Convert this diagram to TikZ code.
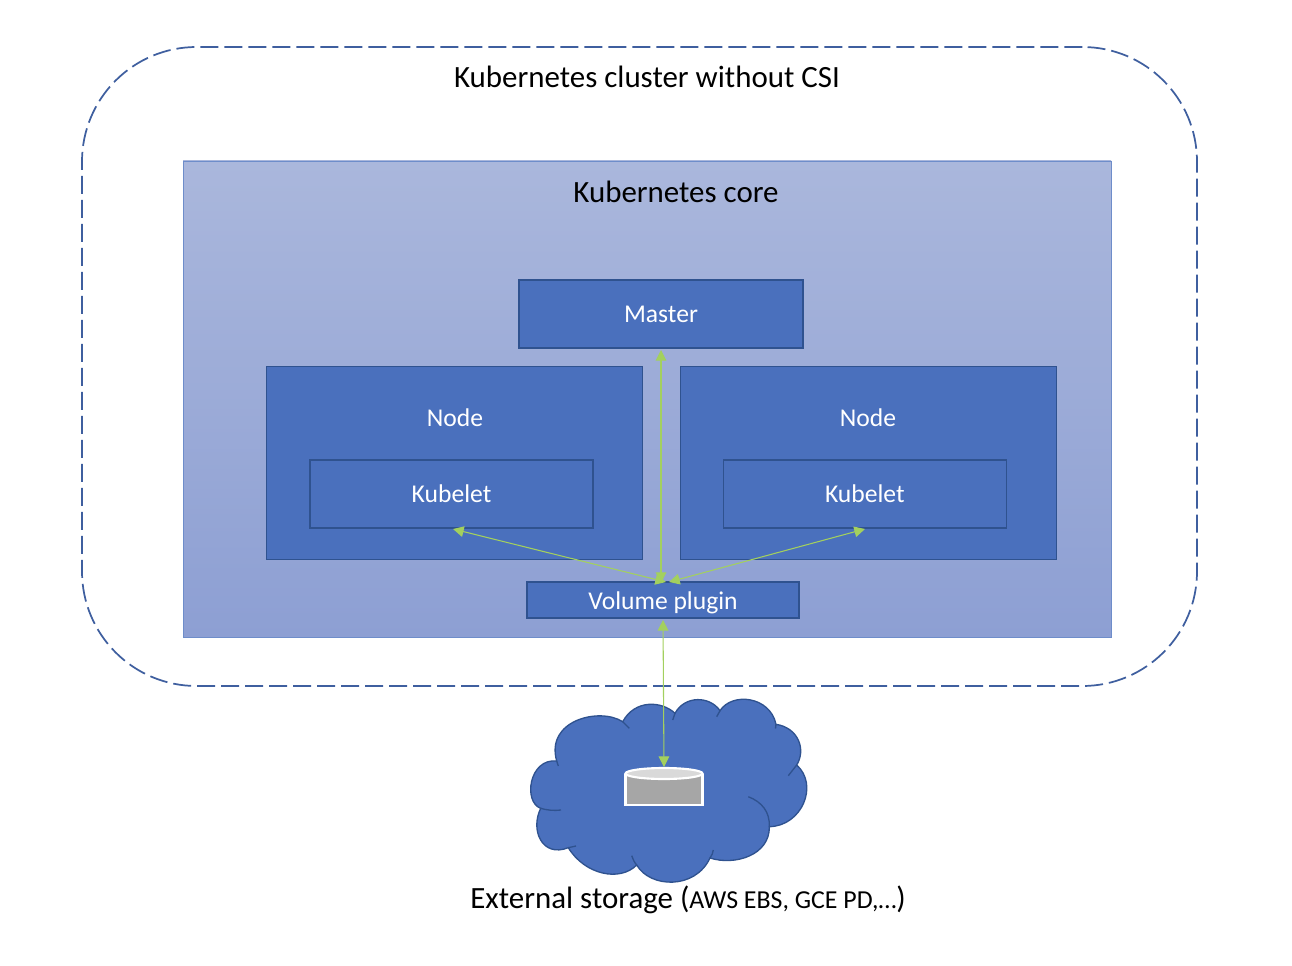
\documentclass[tikz,border=0pt]{standalone}
\usepackage{fontspec}
\setmainfont{Carlito}
\usetikzlibrary{arrows.meta}
\definecolor{bluefill}{HTML}{4A70BD}
\definecolor{blueline}{HTML}{2F528F}
\definecolor{dashline}{HTML}{3F5F9F}
\definecolor{coretop}{HTML}{AAB7DC}
\definecolor{corebot}{HTML}{8D9FD3}
\definecolor{arrowgreen}{HTML}{A3D05E}
\tikzset{
  x=0.75pt,y=-0.75pt,
  box/.style={draw=blueline,line width=1pt,fill=bluefill,inner sep=0pt,text=white,text depth=0pt,font=\fontsize{19.2}{21}\selectfont},
  boxlabel/.style={text=white,inner sep=0pt,font=\fontsize{19.2}{21}\selectfont},
  title/.style={text=black,inner sep=0pt,font=\fontsize{23.2}{26}\selectfont},
  link/.style={draw=arrowgreen,line width=0.8pt,{Triangle[length=8pt,width=8pt]}-{Triangle[length=8pt,width=8pt]}},
}
\begin{document}
\begin{tikzpicture}
\useasboundingbox (0,0) rectangle (1292,966);
% outer dashed region
\node[draw=dashline,line width=1.3pt,rounded corners=86pt,dash pattern=on 13.5pt off 4.5pt,
  minimum width=836.25pt,minimum height=479.25pt,inner sep=0pt] (cluster) at (639.5,366.5) {};
\node[title] (clustertitle) at (647,76.5) {Kubernetes cluster without CSI};
% core
\node[draw=bluefill!80,line width=0.6pt,top color=coretop,bottom color=corebot,
  minimum width=696pt,minimum height=357pt,inner sep=0pt] (core) at (647,399) {};
\node[title] (coretitle) at (676,191.5) {Kubernetes core};
% boxes
\node[box,minimum width=213pt,minimum height=51pt] (master) at (661,314) {Master};
\node[box,minimum width=282pt,minimum height=144.75pt] (nodeL) at (454.8,463) {};
\node[box,minimum width=282pt,minimum height=144.75pt] (nodeR) at (868.8,463) {};
\node[boxlabel] (nodeLt) at (455,418) {Node};
\node[boxlabel] (nodeRt) at (868,418) {Node};
\node[box,minimum width=212.25pt,minimum height=51pt] (kubeL) at (451.5,494) {Kubelet};
\node[box,minimum width=212.25pt,minimum height=51pt] (kubeR) at (864.8,494) {Kubelet};
\node[box,minimum width=204pt,minimum height=27pt] (vol) at (663,600) {\raisebox{-1.2pt}{Volume plugin}};
% cloud
\draw[fill=bluefill,draw=blueline,line width=1pt,line join=miter]
  (556.7,761)
  .. controls (529,758) and (523,802) .. (540.7,808.3)
  .. controls (530,830) and (542,858) .. (568.3,847.7)
  .. controls (585,875) and (620,882) .. (636.7,865)
  .. controls (650,888) and (695,890) .. (710,858)
  .. controls (735,866) and (770,855) .. (769.3,826.7)
  .. controls (802,826) and (819,785) .. (796.7,765)
  .. controls (806,750) and (799,728) .. (776,724.3)
  .. controls (770,696) and (732,692) .. (720,710.7)
  .. controls (710,696) and (685,695) .. (675,713.3)
  .. controls (662,701) and (635,699) .. (622.7,721.7)
  .. controls (600,707) and (545,720) .. (556.7,761) -- cycle;
\draw[draw=blueline,line width=1pt]
  (556.7,761) -- (558.3,766)
  (540.7,808.3) .. controls (546,810) and (554,811) .. (561,810)
  (568.3,847.7) -- (576,846)
  (636.7,865) .. controls (634,862) and (633,859) .. (631.7,855.7)
  (710,858) .. controls (712,855) and (713,853) .. (713.3,850)
  (769.3,826.7) .. controls (770,812) and (762,802) .. (748.3,796.7)
  (796.7,765) -- (788.3,775.7)
  (776,724.3) -- (775.5,728.5)
  (720,710.7) -- (716.7,716.7)
  (675,713.3) -- (672.7,720)
  (622.7,721.7) -- (629.3,728.3);
% drum
\coordinate (drumtop) at (664,767);
\draw[white,line width=1.6pt,fill=white!65!black] (625.5,774) -- (625.5,805) -- (702.5,805) -- (702.5,774);
\draw[white,line width=1.6pt,fill=white!85!black] (664,773.5) ellipse[x radius=38.5,y radius=5.5];
% connectors
\coordinate (masterS) at (661,350);
\coordinate (volN) at (661,583);
\coordinate (volNL) at (666,582);
\coordinate (volNR) at (669,582);
\coordinate (volS) at (663,620);
\coordinate (kubeLS) at (453,529);
\coordinate (kubeRS) at (865,529);
\draw[link] (masterS) -- (volN);
\draw[link] (kubeLS) -- (volNL);
\draw[link] (kubeRS) -- (volNR);
\draw[link] (volS) -- (drumtop);
% bottom label
\node[title] (extlabel) at (688,899.5) {External storage ({\fontsize{19.4}{21}\selectfont AWS EBS, GCE PD,…}{)}};
\end{tikzpicture}
\end{document}
